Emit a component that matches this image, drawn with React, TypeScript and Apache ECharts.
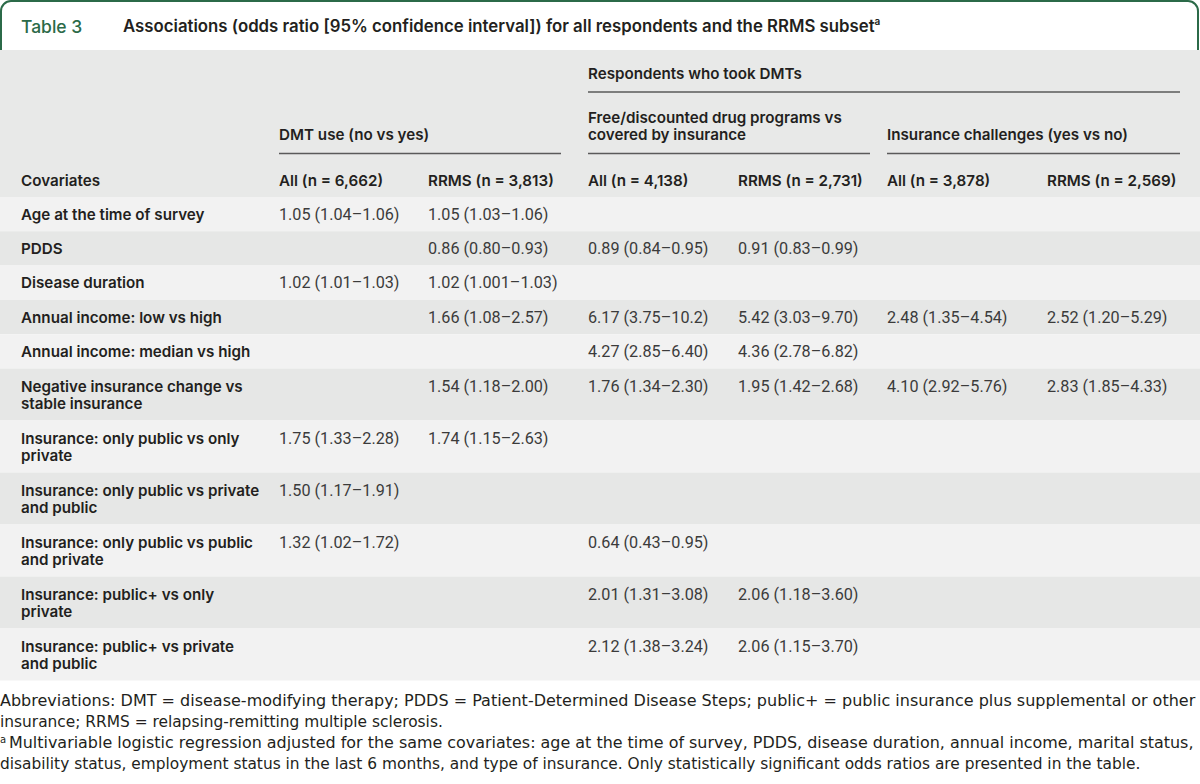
import React, { useEffect, useRef } from "react";
import * as echarts from "echarts";

const tableLabel = "Table 3";
const tableTitle = "Associations (odds ratio [95% confidence interval]) for all respondents and the RRMS subset";
const groupTop = "Respondents who took DMTs";
const groupHeaders = [
  "DMT use (no vs yes)",
  "Free/discounted drug programs vs\ncovered by insurance",
  "Insurance challenges (yes vs no)",
];
const firstHeader = "Covariates";
const columnHeaders = [
  "All (n = 6,662)",
  "RRMS (n = 3,813)",
  "All (n = 4,138)",
  "RRMS (n = 2,731)",
  "All (n = 3,878)",
  "RRMS (n = 2,569)",
];
const covariates = [
  "Age at the time of survey",
  "PDDS",
  "Disease duration",
  "Annual income: low vs high",
  "Annual income: median vs high",
  "Negative insurance change vs\nstable insurance",
  "Insurance: only public vs only\nprivate",
  "Insurance: only public vs private\nand public",
  "Insurance: only public vs public\nand private",
  "Insurance: public+ vs only\nprivate",
  "Insurance: public+ vs private\nand public",
];
const dmtAll = ["1.05 (1.04–1.06)", "", "1.02 (1.01–1.03)", "", "", "", "1.75 (1.33–2.28)", "1.50 (1.17–1.91)", "1.32 (1.02–1.72)", "", ""];
const dmtRrms = ["1.05 (1.03–1.06)", "0.86 (0.80–0.93)", "1.02 (1.001–1.03)", "1.66 (1.08–2.57)", "", "1.54 (1.18–2.00)", "1.74 (1.15–2.63)", "", "", "", ""];
const freeAll = ["", "0.89 (0.84–0.95)", "", "6.17 (3.75–10.2)", "4.27 (2.85–6.40)", "1.76 (1.34–2.30)", "", "", "0.64 (0.43–0.95)", "2.01 (1.31–3.08)", "2.12 (1.38–3.24)"];
const freeRrms = ["", "0.91 (0.83–0.99)", "", "5.42 (3.03–9.70)", "4.36 (2.78–6.82)", "1.95 (1.42–2.68)", "", "", "", "2.06 (1.18–3.60)", "2.06 (1.15–3.70)"];
const insAll = ["", "", "", "2.48 (1.35–4.54)", "", "4.10 (2.92–5.76)", "", "", "", "", ""];
const insRrms = ["", "", "", "2.52 (1.20–5.29)", "", "2.83 (1.85–4.33)", "", "", "", "", ""];
const footnoteLines = [
  "Abbreviations: DMT = disease-modifying therapy; PDDS = Patient-Determined Disease Steps; public+ = public insurance plus supplemental or other",
  "insurance; RRMS = relapsing-remitting multiple sclerosis.",
  "Multivariable logistic regression adjusted for the same covariates: age at the time of survey, PDDS, disease duration, annual income, marital status,",
  "disability status, employment status in the last 6 months, and type of insurance. Only statistically significant odds ratios are presented in the table.",
];
const footnoteJustified = [true, false, true, false];

const GREEN = "#2b6a48";
const INK = "#231f20";
const DATA_INK = "#3b3b3b";
const FONT = "Inter, Roboto, sans-serif";
const DATA_FONT = "Roboto, 'Liberation Sans', sans-serif";
const FOOT_FONT = "'DejaVu Sans', sans-serif";

export default function App() {
  const ref = useRef<HTMLDivElement>(null);
  useEffect(() => {
    const chart = echarts.init(ref.current!, null, { renderer: "svg" });
    const W = 1200;
    const colX = [21, 279, 428, 588, 738, 887, 1047];
    const headTop = 50;
    const bodyTop = 197;
    const singleH = 34.3;
    const doubleH = 52;
    const els: any[] = [];

    const ctx = document.createElement("canvas").getContext("2d")!;
    const measure = (t: string, size: number, family: string) => {
      ctx.font = `${size}px ${family}`;
      return ctx.measureText(t).width;
    };

    // Title box
    els.push({
      type: "rect",
      shape: { x: 1, y: 1, width: W - 3, height: 70, r: [10, 10, 0, 0] },
      style: { fill: "#fff", stroke: GREEN, lineWidth: 2 },
    });
    els.push({
      type: "text",
      x: 21,
      y: 26,
      style: { text: tableLabel, fill: GREEN, fontSize: 17.5, fontWeight: 500, fontFamily: FONT, verticalAlign: "middle" },
    });
    els.push({
      type: "text",
      x: 123,
      y: 26,
      style: {
        text: `{t|${tableTitle}}{s|a}`,
        verticalAlign: "middle",
        rich: {
          t: { fill: INK, fontSize: 16.8, fontWeight: 600, fontFamily: FONT, lineHeight: 20 },
          s: { fill: INK, fontSize: 10, fontWeight: 600, fontFamily: FONT, lineHeight: 20, verticalAlign: "top" },
        },
      },
    });

    // Header band
    els.push({ type: "rect", shape: { x: 0, y: headTop, width: W, height: bodyTop - headTop }, style: { fill: "#e8e9e8" } });

    const headStyle = (text: string) => ({
      text,
      fill: INK,
      fontSize: 15.2,
      fontWeight: 600,
      fontFamily: FONT,
      lineHeight: 17,
      verticalAlign: "middle",
    });
    els.push({ type: "text", x: colX[3], y: 73, style: headStyle(groupTop) });
    els.push({ type: "line", shape: { x1: colX[3], y1: 92, x2: 1180, y2: 92 }, style: { stroke: "#5a5a5a", lineWidth: 1.5 } });
    const groupStarts = [colX[1], colX[3], colX[5]];
    const groupEnds = [561, 870, 1180];
    groupHeaders.forEach((g, i) => {
      const lines = g.split("\n").length;
      els.push({ type: "text", x: groupStarts[i], y: lines > 1 ? 125.5 : 134, style: headStyle(g) });
      els.push({ type: "line", shape: { x1: groupStarts[i], y1: 153.5, x2: groupEnds[i], y2: 153.5 }, style: { stroke: "#5a5a5a", lineWidth: 1.5 } });
    });
    els.push({ type: "text", x: colX[0], y: 180, style: headStyle(firstHeader) });
    columnHeaders.forEach((c, i) => {
      els.push({ type: "text", x: colX[i + 1], y: 180, style: headStyle(c) });
    });

    // Body rows
    const cols = [dmtAll, dmtRrms, freeAll, freeRrms, insAll, insRrms];
    let y = bodyTop;
    covariates.forEach((label, r) => {
      const dbl = label.includes("\n");
      const h = dbl ? doubleH : singleH;
      els.push({ type: "rect", shape: { x: 0, y, width: W, height: h }, style: { fill: r % 2 === 0 ? "#f2f2f2" : "#e6e7e6" } });
      const cy = y + h / 2;
      els.push({ type: "text", x: colX[0], y: cy, style: headStyle(label) });
      const dy = dbl ? cy - 8.5 : cy;
      cols.forEach((col, c) => {
        if (!col[r]) return;
        els.push({
          type: "text",
          x: colX[c + 1],
          y: dy,
          style: { text: col[r], fill: DATA_INK, fontSize: 16.2, fontWeight: 400, fontFamily: DATA_FONT, verticalAlign: "middle" },
        });
      });
      y += h;
    });

    // Footnotes
    const footY = [701, 722, 743, 764];
    const footSize = 15.4;
    footnoteLines.forEach((t, i) => {
      const startX = i === 2 ? 9 : 0;
      let sx = 1;
      if (footnoteJustified[i]) {
        const w = measure(t, footSize, FOOT_FONT);
        if (w > 0) sx = Math.min(1.12, Math.max(0.9, (1195 - startX) / w));
      }
      if (i === 2) {
        els.push({
          type: "text",
          x: 0,
          y: footY[i] - 4,
          style: { text: "a", fill: INK, fontSize: 10, fontFamily: FOOT_FONT, verticalAlign: "middle" },
        });
      }
      els.push({
        type: "text",
        x: startX,
        y: footY[i],
        scaleX: sx,
        style: { text: t, fill: INK, fontSize: footSize, fontFamily: FOOT_FONT, verticalAlign: "middle" },
      });
    });

    chart.setOption({ animation: false, graphic: { elements: els } });
    return () => chart.dispose();
  }, []);
  return (
    <div
      ref={ref}
      style={{ position: "fixed", left: 0, top: 0, width: 1200, height: 784, background: "#ffffff" }}
    />
  );
}
